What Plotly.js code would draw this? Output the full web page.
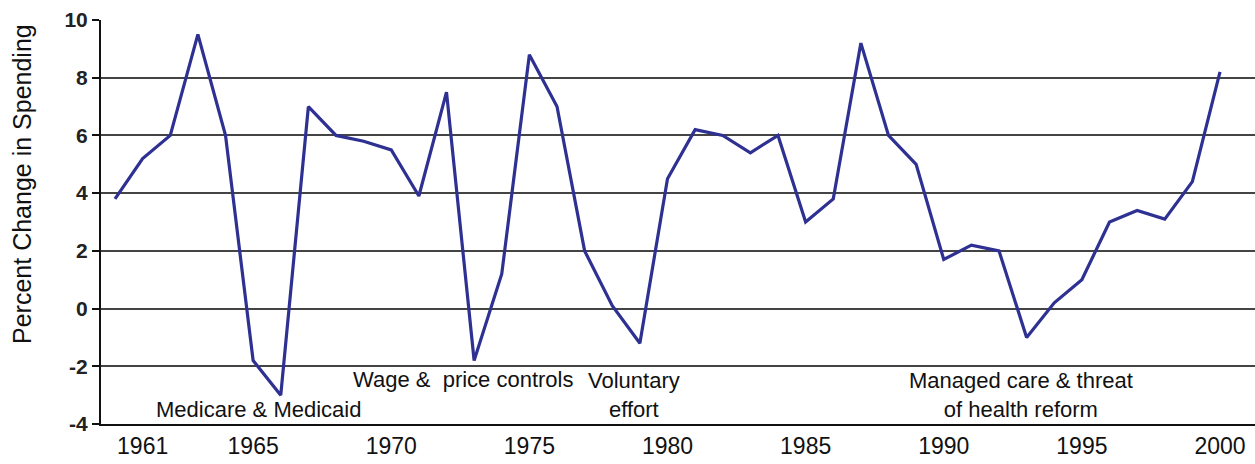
<!DOCTYPE html>
<html>
<head>
<meta charset="utf-8">
<script src="https://cdn.plot.ly/plotly-3.0.1.min.js"></script>
<style>html,body{margin:0;padding:0;background:#fff;}#chart{width:1255px;height:464px;}</style>
</head>
<body>
<div id="chart"></div>
<script>
const years = [1960,1961,1962,1963,1964,1965,1966,1967,1968,1969,1970,1971,1972,1973,1974,1975,1976,1977,1978,1979,1980,1981,1982,1983,1984,1985,1986,1987,1988,1989,1990,1991,1992,1993,1994,1995,1996,1997,1998,1999,2000];
const pctChange = [3.8,5.2,6.0,9.5,6.0,-1.8,-3.0,7.0,6.0,5.8,5.5,3.9,7.5,-1.8,1.2,8.8,7.0,2.0,0.1,-1.2,4.5,6.2,6.0,5.4,6.0,3.0,3.8,9.2,6.0,5.0,1.7,2.2,2.0,-1.0,0.2,1.0,3.0,3.4,3.1,4.4,8.2];
const xTickVals = [1961,1965,1970,1975,1980,1985,1990,1995,2000];
const xTickText = ['1961','1965','1970','1975','1980','1985','1990','1995','2000'];
const yTickVals = [-4,-2,0,2,4,6,8,10];
const yTickText = ['-4','-2','0','2','4','6','8','10'];
const yTitle = 'Percent Change in Spending';
const notes = [
  {text:'Medicare & Medicaid', x:1965.18, y:-3.51, anchor:'center'},
  {text:'Wage &\u00a0 price controls', x:1976.68, y:-2.47, anchor:'right'},
  {text:'Voluntary<br>effort', x:1977.05, y:-2.99, anchor:'left'},
  {text:'Managed care & threat<br>of health reform', x:1992.79, y:-2.99, anchor:'center'}
];

const sans = '"Liberation Sans", Arial, sans-serif';

const trace = {
  x: years, y: pctChange, type:'scatter', mode:'lines',
  line:{color:'#2e3192', width:3.2}, hoverinfo:'x+y', showlegend:false
};

const annotations = notes.map(n => ({
  text:n.text, x:n.x, y:n.y, xref:'x', yref:'y', showarrow:false, xanchor:n.anchor,
  font:{family:sans, size:22, color:'#111'}, align:'center'
}));
annotations.push({
  text:yTitle, xref:'paper', yref:'paper', x:-0.0685, y:0.594, textangle:-90,
  xanchor:'center', yanchor:'middle',
  showarrow:false, font:{family:sans, size:25, color:'#111'}
});

const layout = {
  width:1255, height:464,
  margin:{l:101, r:0, t:20, b:40, pad:0},
  paper_bgcolor:'#fff', plot_bgcolor:'#fff',
  xaxis:{
    range:[1959.493, 2001.267], tickvals:xTickVals, ticktext:xTickText,
    showgrid:false, zeroline:false, showline:true, linecolor:'#111', linewidth:2,
    ticks:'', tickfont:{family:sans, size:23, color:'#111'}
  },
  yaxis:{
    range:[-4, 10], tickvals:yTickVals, ticktext:yTickText,
    showgrid:true, gridcolor:'#444', gridwidth:2,
    zeroline:false, showline:true, linecolor:'#111', linewidth:2,
    ticks:'outside', ticklen:7, tickwidth:2, tickcolor:'#111',
    tickfont:{family:sans, size:21, color:'#222', weight:'bold'}
  },
  annotations:annotations
};

Plotly.newPlot('chart', [trace], layout, {displayModeBar:false, staticPlot:true});
</script>
</body>
</html>
